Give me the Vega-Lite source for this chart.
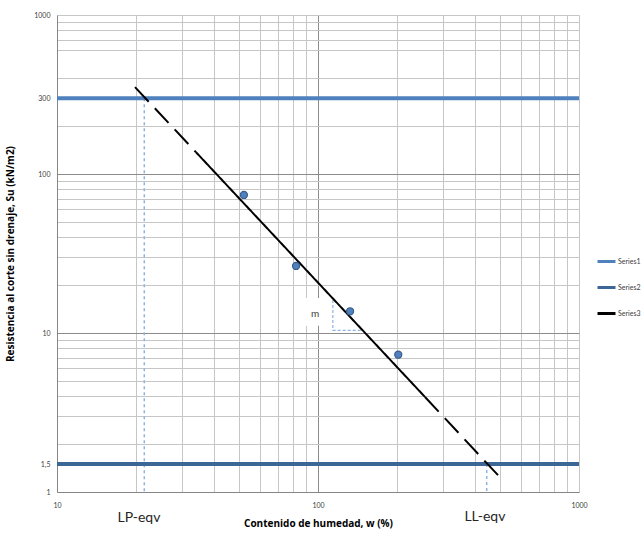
{
  "$schema": "https://vega.github.io/schema/vega-lite/v6.json",
  "width": 522,
  "height": 477,
  "autosize": {"type": "none"},
  "padding": {"left": 57, "top": 15, "right": 65, "bottom": 50},
  "background": "white",
  "config": {
    "view": {"stroke": null},
    "font": "Lato",
    "legend": {"labelFont": "Lato", "labelFontSize": 7, "labelColor": "#404040"}
  },
  "datasets": {
    "box": [{"x": 89, "x2": 112, "y": 11.1, "y2": 16.6}],
    "drops": [{"x": 21.6, "y": 300, "y2": 1}, {"x": 443, "y": 1.5, "y2": 1}],
    "tri": [{"x": 114, "y": 16.1, "o": 1}, {"x": 114, "y": 10.4, "o": 2}, {"x": 147, "y": 10.4, "o": 3}],
    "hlines": [
      {"series": "Series1", "x": 10, "y": 300},
      {"series": "Series1", "x": 1000, "y": 300},
      {"series": "Series2", "x": 10, "y": 1.5},
      {"series": "Series2", "x": 1000, "y": 1.5}
    ],
    "fit": [
      {"series": "Series3", "seg": "a", "style": "dash", "x": 19.9, "y": 352},
      {"series": "Series3", "seg": "a", "style": "dash", "x": 34.1, "y": 137},
      {"series": "Series3", "seg": "b", "style": "solid", "x": 34.1, "y": 137},
      {"series": "Series3", "seg": "b", "style": "solid", "x": 257, "y": 3.96},
      {"series": "Series3", "seg": "c", "style": "dash", "x": 257, "y": 3.96},
      {"series": "Series3", "seg": "c", "style": "dash", "x": 502, "y": 1.22}
    ],
    "pts": [
      {"x": 52, "y": 73.8},
      {"x": 82.4, "y": 26.4},
      {"x": 132.7, "y": 13.7},
      {"x": 203, "y": 7.3}
    ],
    "labels": [
      {"x": 20.6, "y": 0.686, "label": "LP-eqv"},
      {"x": 436, "y": 0.697, "label": "LL-eqv"}
    ],
    "mlabel": [{"x": 97.4, "y": 13.2, "label": "m"}]
  },
  "encoding": {
    "x": {
      "field": "x",
      "type": "quantitative",
      "scale": {"type": "log", "domain": [10, 1000], "nice": false},
      "axis": {
        "title": "Contenido de humedad, w (%)",
        "titleFont": "Open Sans",
        "titleFontSize": 10,
        "titleFontWeight": "bold",
        "titleColor": "#000000",
        "titlePadding": 10,
        "values": [10, 20, 30, 40, 50, 60, 70, 80, 90, 100, 200, 300, 400, 500, 600, 700, 800, 900, 1000],
        "labelExpr": "indexof([10,100,1000], datum.value) >= 0 ? toString(datum.value) : ''",
        "labelFont": "Lato",
        "labelFontSize": 7,
        "labelColor": "#404040",
        "labelPadding": 9,
        "labelFlush": false,
        "labelOverlap": false,
        "ticks": false,
        "domainColor": "#868686",
        "grid": true,
        "gridColor": {"condition": {"test": "datum.value == 100", "value": "#8c8c8c"}, "value": "#c6c6c6"},
        "gridWidth": 1
      }
    },
    "y": {
      "field": "y",
      "type": "quantitative",
      "scale": {"type": "log", "domain": [1, 1000], "nice": false},
      "axis": {
        "title": "Resistencia al corte sin drenaje, Su (kN/m2)",
        "titleFont": "Open Sans",
        "titleFontSize": 10,
        "titleFontWeight": "bold",
        "titleColor": "#000000",
        "titlePadding": 18,
        "values": [1, 1.5, 2, 3, 4, 5, 6, 7, 8, 9, 10, 20, 30, 40, 50, 60, 70, 80, 90, 100, 200, 300, 400, 600, 700, 800, 900, 1000],
        "labelExpr": "datum.value == 1.5 ? '1,5' : (indexof([1,10,100,300,1000], datum.value) >= 0 ? toString(datum.value) : '')",
        "labelFont": "Lato",
        "labelFontSize": 7,
        "labelColor": "#404040",
        "labelPadding": 7,
        "labelFlush": false,
        "labelOverlap": false,
        "ticks": false,
        "domainColor": "#868686",
        "grid": true,
        "gridColor": {"condition": {"test": "datum.value == 10 || datum.value == 100", "value": "#8c8c8c"}, "value": "#c6c6c6"},
        "gridWidth": 1
      }
    }
  },
  "layer": [
    {
      "data": {"name": "box"},
      "mark": {"type": "rect", "fill": "white"},
      "encoding": {"x2": {"field": "x2"}, "y2": {"field": "y2"}}
    },
    {
      "data": {"name": "drops"},
      "mark": {"type": "rule", "color": "#8db3e2", "strokeWidth": 1.5, "strokeDash": [3, 3]},
      "encoding": {"y2": {"field": "y2"}}
    },
    {
      "data": {"name": "tri"},
      "mark": {"type": "line", "color": "#8db3e2", "strokeWidth": 1.2, "strokeDash": [3, 2]},
      "encoding": {"order": {"field": "o"}}
    },
    {
      "data": {"name": "hlines"},
      "mark": {"type": "line", "strokeWidth": 4},
      "encoding": {
        "color": {
          "field": "series",
          "type": "nominal",
          "scale": {"domain": ["Series1", "Series2", "Series3"], "range": ["#4f81bd", "#3c6696", "#000000"]},
          "legend": {
            "title": null,
            "orient": "none",
            "legendX": 539,
            "legendY": 236,
            "symbolType": "stroke",
            "symbolSize": 324,
            "symbolStrokeWidth": 3,
            "labelOffset": 1,
            "rowPadding": 9
          }
        }
      }
    },
    {
      "data": {"name": "fit"},
      "mark": {"type": "line", "strokeWidth": 2},
      "encoding": {
        "color": {"field": "series", "type": "nominal"},
        "detail": {"field": "seg"},
        "strokeDash": {
          "field": "style",
          "type": "nominal",
          "scale": {"domain": ["dash", "solid"], "range": [[20, 9], [1, 0]]},
          "legend": null
        }
      }
    },
    {
      "data": {"name": "pts"},
      "mark": {"type": "point", "filled": true, "fill": "#4f81bd", "stroke": "#385d8a", "strokeWidth": 1.2, "size": 50, "opacity": 1}
    },
    {
      "data": {"name": "mlabel"},
      "mark": {"type": "text", "fontSize": 10, "font": "Lato", "color": "#404040"},
      "encoding": {"text": {"field": "label"}}
    },
    {
      "data": {"name": "labels"},
      "mark": {"type": "text", "fontSize": 14, "font": "Lato", "color": "#262626", "baseline": "middle"},
      "encoding": {"text": {"field": "label"}}
    }
  ]
}
